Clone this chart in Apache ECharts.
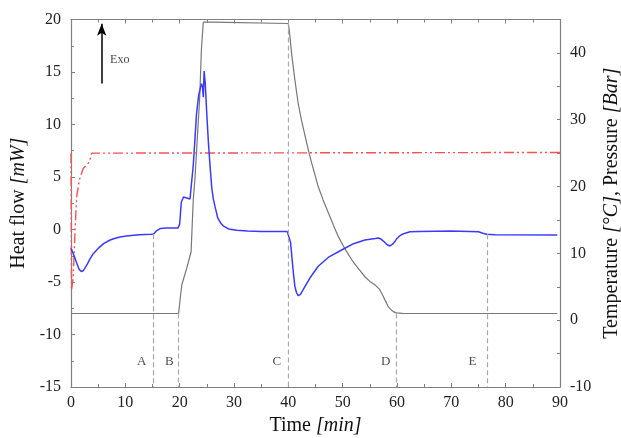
<!DOCTYPE html>
<html>
<head>
<meta charset="utf-8">
<script src="https://cdn.jsdelivr.net/npm/echarts@6/dist/echarts.min.js"></script>
<style>html,body{margin:0;padding:0;background:#fff}#c{width:621px;height:438px}</style>
</head>
<body>
<div id="c"></div>
<script>
// ---- Heat flow (mW, left axis) ----
var heatTime = [0, 0.15, 0.42, 0.75, 1.05, 1.5, 1.9, 2.3, 3.0, 3.5, 4.1, 5.0, 6.0, 7.2, 8.0, 9.0, 10.2, 12.5, 14.8, 15.2, 15.8, 16.5, 17.5, 19.7, 20.0, 20.3, 20.7, 21.3, 21.9, 22.2, 22.5, 22.8, 23.1, 23.5, 24.0, 24.2, 24.35, 24.5, 24.7, 25.0, 25.3, 25.6, 25.9, 26.2, 26.5, 27.0, 27.5, 28.0, 29.0, 30.5, 32.5, 35, 39.8, 40.1, 40.4, 40.6, 40.9, 41.2, 41.5, 41.8, 42.2, 42.6, 43.1, 44.0, 45.5, 47.5, 49.8, 52, 54.1, 56.0, 56.6, 57.0, 57.5, 58.2, 58.7, 59.2, 59.6, 60.0, 60.5, 61.0, 61.5, 62.4, 64, 70, 75, 75.8, 76.5, 78, 89.5];
var heatFlow = [-1.8, -1.95, -2.3, -2.75, -3.2, -3.8, -4.0, -3.9, -3.3, -2.8, -2.3, -1.8, -1.35, -1.0, -0.85, -0.72, -0.62, -0.5, -0.46, -0.42, -0.1, 0.1, 0.15, 0.15, 0.5, 2.6, 3.1, 3.0, 2.9, 3.0, 6.1, 8.5, 11.0, 12.8, 13.9, 13.6, 12.6, 15.1, 14.0, 10.9, 8.2, 6.0, 4.0, 2.9, 2.2, 1.1, 0.65, 0.35, 0.05, -0.08, -0.15, -0.18, -0.2, -0.27, -1.2, -2.3, -4.0, -5.4, -6.0, -6.3, -6.2, -5.85, -5.4, -4.6, -3.5, -2.6, -1.95, -1.35, -1.0, -0.85, -0.8, -0.9, -1.1, -1.45, -1.57, -1.4, -1.15, -0.85, -0.6, -0.45, -0.35, -0.22, -0.18, -0.15, -0.22, -0.35, -0.45, -0.5, -0.52];

// ---- Temperature (°C, right axis) ----
var tempTime = [0, 19.8, 20.2, 20.4, 21.3, 22.1, 22.5, 22.8, 23.3, 23.7, 24.0, 24.35, 26, 40.0, 40.2, 40.6, 41.2, 41.8, 42.4, 43.1, 43.7, 44.3, 45.5, 46.4, 47.4, 48.3, 49.2, 50.4, 51.7, 52.9, 54.1, 55.0, 56.0, 56.8, 57.2, 57.8, 58.4, 59.0, 59.5, 59.9, 61.0, 62.4, 89.5];
var tempValue = [1.0, 1.0, 4.0, 5.3, 7.8, 10.2, 18, 21, 28, 33.5, 40.5, 44.6, 44.6, 44.4, 43.2, 39.9, 36, 32.5, 30.0, 27.5, 25.4, 23.5, 20.0, 18.0, 16.0, 14.2, 12.5, 10.7, 9.0, 7.7, 6.5, 5.8, 5.25, 4.6, 4.0, 3.0, 2.0, 1.5, 1.2, 1.1, 1.02, 1.0, 1.0];

// ---- Pressure (Bar, right axis) ----
var pressTime = [0, 0.1, 0.42, 0.74, 1.05, 1.53, 2.26, 3.18, 3.5, 3.8, 4.1, 90];
var pressValue = [25, 4.5, 6.5, 13.5, 18.5, 21.0, 22.7, 23.5, 24.0, 25.0, 25.1, 25.1];

// ---- Stage markers ----
var stageNames = ['A', 'B', 'C', 'D', 'E'];
var stageTimes = [15.15, 19.8, 40, 59.9, 76.6];
var stageTops = [-0.45, -8.0, 19.8, -8.0, -0.45];
var stageLabelTimes = [13.0, 18.1, 37.9, 57.9, 73.9];
var stageLabelLevel = -12.6;

// ---- Exo arrow ----
var exoTime = 5.65;
var exoFrom = 13.9;
var exoTo = 19.6;
var exoTextPos = [7.2, 16.2];

function zip(a, b) { return a.map(function (v, i) { return [v, b[i]]; }); }

var serif = '"Liberation Serif", "DejaVu Serif", serif';
var axisColor = '#808080';

var chart = echarts.init(document.getElementById('c'), null, { renderer: 'canvas' });

var stageLines = stageTimes.map(function (t, i) {
  return [{ coord: [t, stageTops[i]] }, { coord: [t, -15] }];
});
var stageLabelData = stageNames.map(function (n, i) {
  return { value: [stageLabelTimes[i], stageLabelLevel], name: n };
});

function tickLabel(margin) {
  return { fontFamily: serif, fontSize: 16, color: '#222', margin: margin };
}
var nameStyle = { fontFamily: serif, fontSize: 20, color: '#111',
  rich: { i: { fontFamily: serif, fontSize: 20, fontStyle: 'italic', color: '#111' } } };

chart.setOption({
  animation: false,
  backgroundColor: '#fff',
  textStyle: { fontFamily: serif },
  grid: { left: 71, right: 61, top: 19.5, bottom: 51, containLabel: false, outerBoundsMode: 'none' },
  xAxis: [{
    type: 'value', min: 0, max: 90, interval: 10, position: 'bottom',
    name: 'Time {i|[min]}', nameLocation: 'middle', nameGap: 27, nameTextStyle: nameStyle,
    axisLine: { show: true, onZero: false, lineStyle: { color: axisColor, width: 1.2 } },
    axisTick: { show: true, inside: true, length: 4, lineStyle: { color: axisColor } },
    minorTick: { show: true, splitNumber: 2, length: 3, lineStyle: { color: axisColor } },
    axisLabel: tickLabel(8),
    splitLine: { show: false }
  }, {
    type: 'value', min: 0, max: 90, interval: 10, position: 'top',
    axisLine: { show: true, onZero: false, lineStyle: { color: axisColor, width: 1.2 } },
    axisTick: { show: true, inside: true, length: 4, lineStyle: { color: axisColor } },
    minorTick: { show: true, splitNumber: 2, length: 3, lineStyle: { color: axisColor } },
    axisLabel: { show: false },
    splitLine: { show: false }
  }],
  yAxis: [{
    type: 'value', min: -15, max: 20, interval: 5, position: 'left',
    name: 'Heat flow {i|[mW]}', nameLocation: 'middle', nameGap: 31, nameRotate: 90, nameTextStyle: nameStyle,
    axisLine: { show: true, onZero: false, lineStyle: { color: axisColor, width: 1.2 } },
    axisTick: { show: true, inside: true, length: 4, lineStyle: { color: axisColor } },
    minorTick: { show: true, splitNumber: 2, length: 3, lineStyle: { color: axisColor } },
    axisLabel: tickLabel(10),
    splitLine: { show: false }
  }, {
    type: 'value', min: -10, max: 45, interval: 5, position: 'right',
    name: 'Temperature {i|[°C]}, Pressure {i|[Bar]}', nameLocation: 'middle', nameGap: 40, nameRotate: 90, nameTextStyle: nameStyle,
    axisLine: { show: true, onZero: false, lineStyle: { color: axisColor, width: 1.2 } },
    axisTick: { show: true, inside: true, length: 3, lineStyle: { color: axisColor } },
    axisLabel: { fontFamily: serif, fontSize: 16, color: '#222', margin: 10,
      formatter: function (v) { return (v % 10 === 0) ? String(v) : ''; } },
    splitLine: { show: false }
  }],
  series: [{
    name: 'Temperature', type: 'line', xAxisIndex: 0, yAxisIndex: 1,
    data: zip(tempTime, tempValue), showSymbol: false, symbol: 'none',
    lineStyle: { color: '#777777', width: 1.2 }, z: 2
  }, {
    name: 'Pressure', type: 'line', xAxisIndex: 0, yAxisIndex: 1,
    data: zip(pressTime, pressValue), showSymbol: false, symbol: 'none',
    lineStyle: { color: '#ff5050', width: 1.4, type: [10, 3, 2, 3, 2, 3] }, z: 3
  }, {
    name: 'Heat flow', type: 'line', xAxisIndex: 0, yAxisIndex: 0,
    data: zip(heatTime, heatFlow), showSymbol: false, symbol: 'none',
    lineStyle: { color: '#3a3aff', width: 1.5 }, z: 4,
    markLine: {
      silent: true, symbol: ['none', 'none'], label: { show: false },
      lineStyle: { color: '#aaaaaa', type: [5, 3], width: 1.2 },
      data: stageLines
    }
  }, {
    name: 'Stages', type: 'scatter', xAxisIndex: 0, yAxisIndex: 0,
    data: stageLabelData, symbolSize: 0, silent: true,
    label: { show: true, position: 'inside', formatter: '{b}', fontFamily: serif, fontSize: 13, color: '#222' }
  }, {
    name: 'Exo', type: 'scatter', xAxisIndex: 0, yAxisIndex: 0,
    data: [{ value: exoTextPos, name: 'Exo' }], symbolSize: 0, silent: true,
    label: { show: true, position: 'right', distance: 0, formatter: '{b}', fontFamily: serif, fontSize: 12, color: '#111' },
    markLine: {
      silent: true, symbol: ['none', 'arrow'], symbolSize: [7, 12], label: { show: false },
      lineStyle: { color: '#000', type: 'solid', width: 1.5 },
      data: [[{ coord: [exoTime, exoFrom] }, { coord: [exoTime, exoTo] }]]
    }
  }]
});
</script>
</body>
</html>
